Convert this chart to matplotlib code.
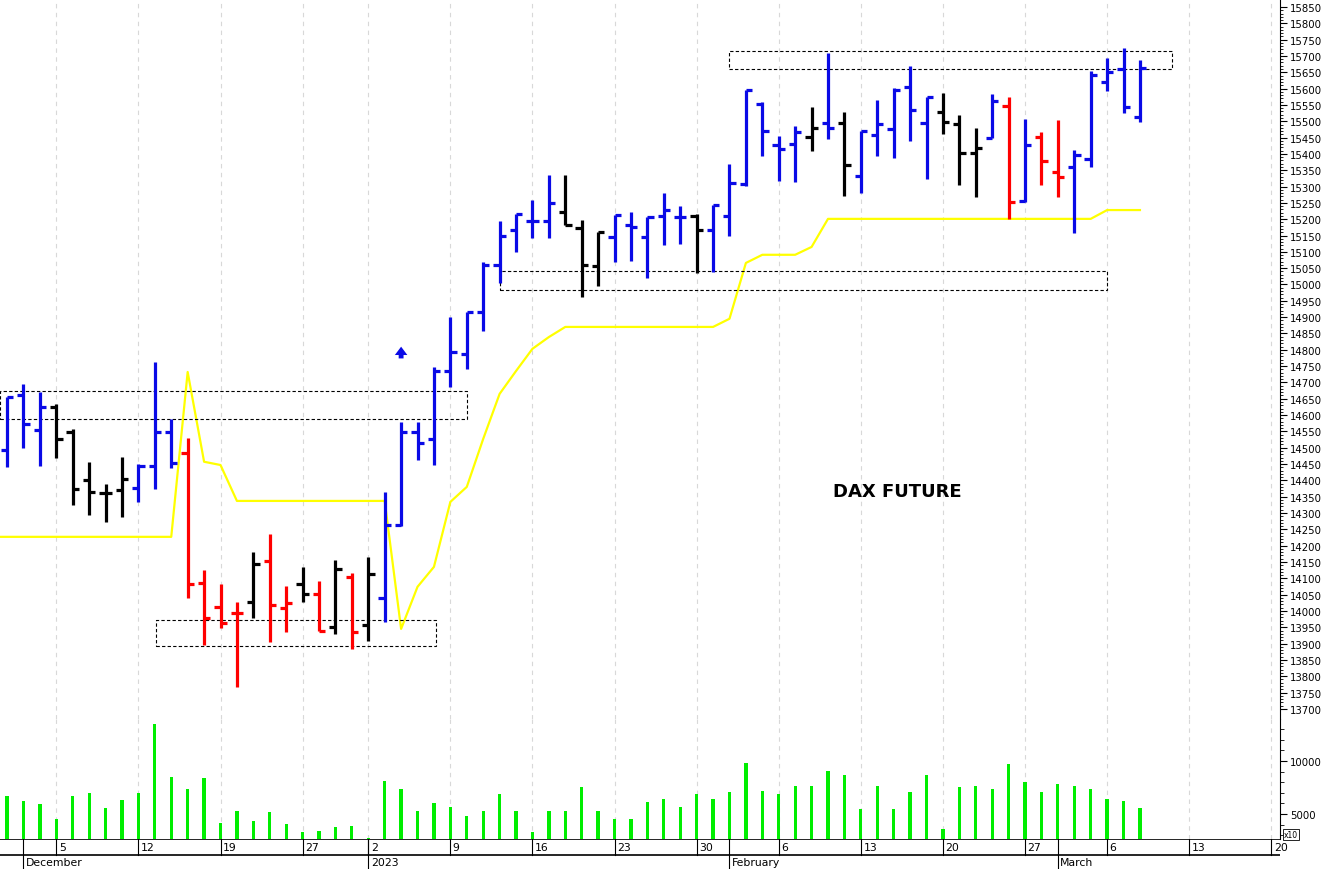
import numpy as np
import matplotlib
matplotlib.use("Agg")
import matplotlib.pyplot as plt
from matplotlib.patches import Rectangle

# ---------------- data ----------------
opens = [14493,14662,14555,14625,14548,14401,14362,14371,14377,14444,14548,14484,14086,14012,13994,
         14028,14153,14009,14083,14052,13951,14104,13957,14040,14264,14548,14527,14735,14787,14916,
         15060,15167,15195,15195,15222,15173,15057,15146,15182,15146,15210,15207,15210,15167,15210,
         15308,15553,15428,15431,15452,15495,15495,15333,15458,15477,15605,15495,15529,15492,15403,
         15449,15547,15256,15452,15345,15360,15385,15621,15660,15513]
highs = [14656,14695,14671,14634,14558,14457,14389,14472,14450,14763,14588,14530,14126,14083,14028,
         14181,14236,14077,14135,14092,14156,14117,14166,14365,14579,14579,14748,14901,14916,15069,
         15195,15216,15259,15336,15336,15198,15161,15213,15222,15207,15281,15241,15216,15244,15369,
         15596,15559,15455,15486,15544,15709,15529,15470,15565,15602,15670,15575,15587,15519,15480,
         15584,15575,15507,15467,15504,15412,15654,15694,15725,15688]
lows = [14441,14499,14444,14469,14325,14294,14273,14288,14334,14374,14438,14040,13896,13948,13767,
        13979,13905,13936,14028,13939,13930,13884,13908,13966,14261,14463,14447,14686,14741,14858,
        15005,15100,15143,15143,15182,14962,14996,15069,15072,15020,15121,15124,15035,15038,15149,
        15302,15394,15317,15314,15409,15446,15271,15281,15394,15388,15440,15323,15461,15305,15268,
        15449,15201,15253,15305,15268,15158,15360,15593,15526,15498]
closes = [14656,14573,14625,14527,14374,14365,14362,14404,14444,14548,14453,14083,13979,13963,13994,
          14144,14019,14025,14052,13939,14129,13936,14114,14264,14548,14515,14735,14794,14916,15060,
          15149,15216,15195,15250,15182,15060,15161,15213,15176,15207,15228,15207,15167,15244,15311,
          15596,15470,15415,15467,15480,15480,15366,15470,15492,15596,15535,15575,15498,15403,15418,
          15562,15253,15428,15379,15329,15397,15642,15651,15544,15663]
bar_colors = (['b']*3 + ['k']*5 + ['b']*3 + ['r']*4 + ['k'] + ['r']*2 + ['k'] + ['r'] + ['k'] + ['r'] + ['k']
              + ['b']*11 + ['k']*3 + ['b']*5 + ['k'] + ['b']*6 + ['k'] + ['b'] + ['k'] + ['b']*5 + ['k']*3
              + ['b'] + ['r'] + ['b'] + ['r']*2 + ['b']*5)
stop_line = [14227]*11 + [14732,14457,14447] + [14337]*10 + [13945,14074,14135,14334,14380,14527,14665,
             14735,14803,14839] + [14870]*10 + [14895,15066,15091,15091,15091,15115] + [15201]*17 + [15228]*3
volume = [6700,6230,5940,4530,6700,6980,5570,6320,6980,13490,8490,7360,8400,4150,5280,4340,5190,4060,
          3300,3400,3770,3870,2740,8110,7360,5280,6040,5660,4810,
          5280,6890,5280,3300,5280,5280,7550,5280,4530,4530,6130,6420,5660,6890,6420,7080,9810,7170,6890,
          7640,7640,9060,8680,5470,7640,5470,7080,8680,3580,7550,7640,7360,9720,8020,7080,7830,7640,7360,
          6420,6230,5570]
day_ticks = [3, 8, 13, 18, 22, 27, 32, 37, 42, 47, 52, 57, 62, 67, 72, 77]
day_labels = ['5', '12', '19', '27', '2', '9', '16', '23', '30', '6', '13', '20', '27', '6', '13', '20']
month_ticks = [1, 22, 44, 64]
month_labels = ['December', '2023', 'February', 'March']
boxes = [(-0.43, 28.0, 14588, 14674), (9.1, 26.1, 13893, 13973),
         (30.0, 67.0, 14984, 15042), (44.0, 70.95, 15660, 15715)]

cmap = {'b': '#0a0ae6', 'r': '#ff0000', 'k': '#000000'}
W, H = 1328, 870
fig = plt.figure(figsize=(W/100, H/100), dpi=100)
XL = (-0.43, 77.53)
axr = 1280 / W
ax = fig.add_axes([0, 1 - 720/H, axr, 720/H])
axv = fig.add_axes([0, 1 - 840/H, axr, 120/H])
axd = fig.add_axes([0, 0, axr, 30/H])

n = len(opens)
idx = np.arange(n)
for a in (ax, axv):
    a.set_xlim(*XL)
    for t in day_ticks:
        a.axvline(t, color='#d8d8d8', lw=0.8, ls=(0, (4, 4)), zorder=0)
    a.set_xticks([])
    a.yaxis.tick_right()
    for s in ('left', 'top', 'bottom'):
        a.spines[s].set_visible(False)

ax.set_ylim(13669, 15874.5)
ax.set_yticks(np.arange(13700, 15851, 50))
ax.set_yticks(np.arange(13700, 15851, 10), minor=True)
ax.tick_params(axis='y', which='major', length=5, labelsize=7.3, pad=2)
ax.tick_params(axis='y', which='minor', length=2)

ax.plot(np.r_[XL[0], idx], np.r_[stop_line[0], stop_line], color='#ffff00', lw=1.6, zorder=1)
tw = 0.38
for i in idx:
    c = cmap[bar_colors[i]]
    ax.plot([i, i], [lows[i], highs[i]], color=c, lw=2.3, solid_capstyle='butt', zorder=3)
    ax.plot([i - tw, i], [opens[i], opens[i]], color=c, lw=2.3, solid_capstyle='butt', zorder=3)
    ax.plot([i, i + tw], [closes[i], closes[i]], color=c, lw=2.3, solid_capstyle='butt', zorder=3)

for x0, x1, y0, y1 in boxes:
    ax.add_patch(Rectangle((x0, y0), x1 - x0, y1 - y0, fill=False, ec='black', lw=0.8,
                           ls=(0, (3, 2)), zorder=2))
ax.annotate('', xy=(24, 14818), xytext=(24, 14765),
            arrowprops=dict(arrowstyle='simple,head_width=0.9,head_length=0.6,tail_width=0.35',
                            color='#0a0ae6', lw=0))
ax.text(54.2, 14368, 'DAX FUTURE', fontsize=13, fontweight='bold', ha='center', va='center')

axv.set_ylim(2640, 13962)
axv.bar(idx, volume, width=0.2, bottom=0, color='#00ee00', zorder=2)
axv.set_yticks([5000, 10000])
axv.set_yticks(np.arange(3000, 13001, 1000), minor=True)
axv.tick_params(axis='y', which='major', length=5, labelsize=7.3, pad=2)
axv.tick_params(axis='y', which='minor', length=3)
axv.text(1.003, 0.0, 'x10', transform=axv.transAxes, fontsize=5.5, va='bottom', ha='left',
         bbox=dict(fc='white', ec='black', lw=0.6, pad=0.8))

# date strip
axd.set_xlim(*XL)
axd.set_ylim(0, 30)
axd.axis('off')
axd.axhline(30, color='black', lw=1.2)
axd.axhline(14.5, color='black', lw=1.2)
for t, l in zip(day_ticks, day_labels):
    axd.plot([t, t], [14.5, 30], color='black', lw=0.8)
    axd.text(t + 0.15, 22, l, fontsize=7.8, va='center', ha='left')
for t, l in zip(month_ticks, month_labels):
    axd.plot([t, t], [0, 30], color='black', lw=0.8)
    axd.text(t + 0.15, 6.5, l, fontsize=7.8, va='center', ha='left')

fig.savefig('out.png', dpi=100)
